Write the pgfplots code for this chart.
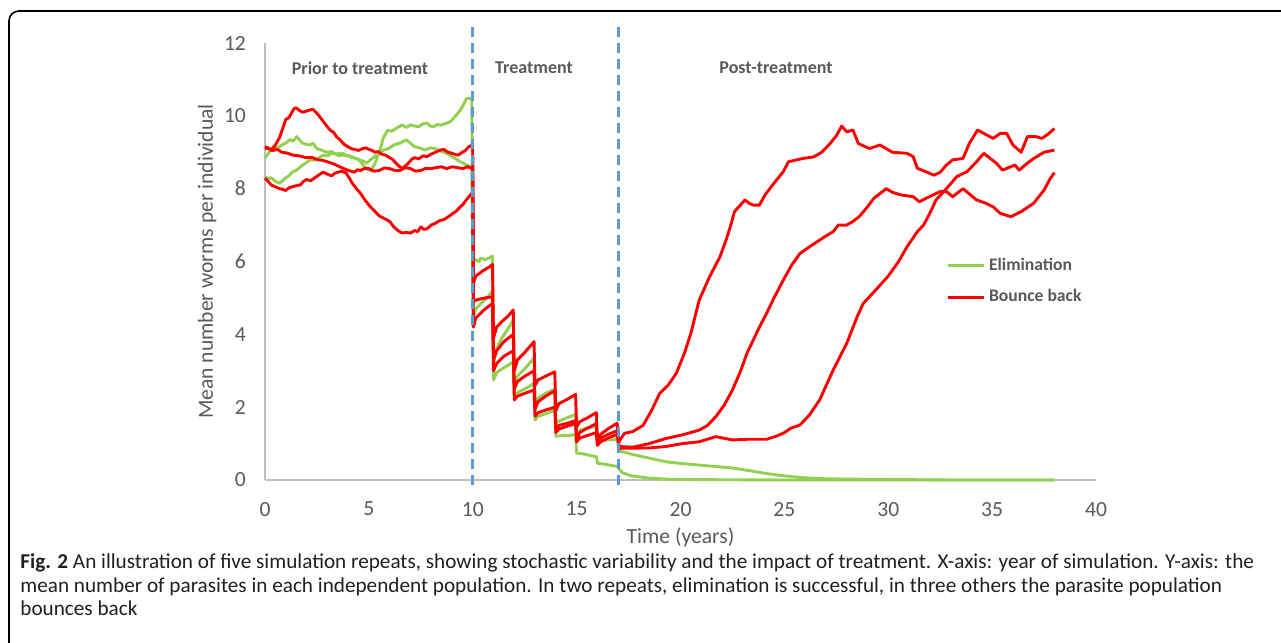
\documentclass[border=0pt]{standalone}
\usepackage{pgfplots}
\pgfplotsset{compat=1.18}
\usepackage{fontspec}
\setmainfont{Carlito}
\definecolor{elim}{HTML}{92D050}
\definecolor{bounce}{HTML}{FF0000}
\definecolor{dashblue}{HTML}{5B9BD5}
\definecolor{txtgray}{HTML}{595959}
\definecolor{axgray}{HTML}{BFBFBF}
\definecolor{captxt}{HTML}{231F20}
\begin{document}
\begin{tikzpicture}
\path[use as bounding box] (0,0) rectangle (640.5pt,321.5pt);
\draw[black, line width=0.8pt, rounded corners=5pt] (642pt,316pt) -- (4.5pt,316pt) -- (4.5pt,-2pt);
\begin{axis}[
  at={(132.5pt,81.5pt)}, anchor=south west,
  width=415.5pt, height=218.5pt, scale only axis,
  xmin=0, xmax=40, ymin=0, ymax=12,
  xtick={0,5,...,40}, ytick={0,2,...,12},
  axis x line=bottom, axis y line=left,
  axis line style={-, axgray, line width=0.8pt},
  major tick length=0pt,
  tick label style={font=\fontsize{10.8}{12}\selectfont, text=txtgray},
  /pgf/number format/assume math mode=true,
  xticklabel style={yshift=-7.5pt},
  yticklabel style={xshift=-6pt},
  xlabel={Time (years)},
  ylabel={Mean number worms per individual},
  label style={font=\fontsize{10.8}{12}\selectfont, text=txtgray},
  xlabel style={at={(axis description cs:0.5,-0.131)}, anchor=center},
  ylabel style={at={(axis description cs:-0.0698,0.5)}, anchor=center},
  clip=false,
  legend style={draw=none, fill=none, at={(axis description cs:0.812,0.527)}, anchor=north west,
    font=\bfseries\fontsize{8.8}{10}\selectfont, text=txtgray, row sep=4pt},
  legend cell align=left,
  legend image code/.code={\draw[#1] (0pt,0pt) -- (18pt,0pt);},
  every axis plot/.append style={line width=1.45pt, line join=round},
]
\addplot[elim] coordinates {(0,8.33)(0.15,8.28)(0.3,8.3)(0.5,8.2)(0.7,8.15)(0.85,8.22)(1.0,8.3)(1.15,8.35)(1.3,8.45)(1.5,8.5)(1.7,8.6)(1.95,8.7)(2.2,8.8)(2.4,8.78)(2.6,8.85)(2.8,8.92)(3.0,8.9)(3.2,8.97)(3.4,8.95)(3.6,8.9)(3.75,8.97)(3.9,8.92)(4.1,8.9)(4.3,8.84)(4.5,8.8)(4.65,8.7)(4.8,8.6)(4.95,8.52)(5.1,8.5)(5.2,8.6)(5.3,8.7)(5.4,8.85)(5.5,9.0)(5.6,9.2)(5.7,9.4)(5.8,9.5)(5.9,9.6)(6.1,9.58)(6.3,9.65)(6.45,9.7)(6.6,9.75)(6.8,9.68)(7.0,9.75)(7.2,9.72)(7.4,9.7)(7.6,9.78)(7.8,9.8)(7.95,9.72)(8.1,9.7)(8.3,9.76)(8.5,9.75)(8.75,9.8)(8.95,9.85)(9.1,9.95)(9.25,10.05)(9.4,10.16)(9.55,10.3)(9.7,10.48)(9.95,10.48)
(10.02,6.0)(10.15,6.05)(10.3,6.0)(10.4,6.1)(10.6,6.05)(10.8,6.1)(10.95,6.15)
(11.0,2.75)(11.15,2.95)(11.4,3.05)(11.7,3.15)(11.95,3.25)
(12.0,2.3)(12.15,2.4)(12.5,2.5)(12.95,2.65)
(13.0,1.65)(13.15,1.75)(13.5,1.82)(13.95,1.92)
(14.0,1.2)(14.3,1.22)(14.6,1.22)(14.95,1.25)
(15.0,0.74)(15.3,0.72)(15.6,0.68)(15.95,0.64)
(16.0,0.46)(16.5,0.42)(16.95,0.37)
(17.05,0.3)(17.2,0.2)(17.6,0.12)(18.5,0.05)(19.5,0.02)(21,0.01)(25,0)(38,0)};
\addlegendentry{Elimination}
\addplot[elim, forget plot] coordinates {(0,8.84)(0.2,9.0)(0.4,9.15)(0.6,9.12)(0.8,9.2)(1.0,9.25)(1.2,9.35)(1.35,9.3)(1.52,9.43)(1.65,9.35)(1.8,9.25)(2.0,9.22)(2.17,9.2)(2.3,9.25)(2.5,9.1)(2.75,9.05)(2.97,9.0)(3.2,9.02)(3.4,8.95)(3.6,8.97)(3.75,8.92)(4.0,8.9)(4.2,8.85)(4.4,8.83)(4.55,8.79)(4.75,8.75)(4.9,8.7)(5.05,8.78)(5.2,8.85)(5.45,8.95)(5.7,9.06)(5.95,9.1)(6.2,9.2)(6.5,9.25)(6.8,9.34)(7.0,9.25)(7.2,9.15)(7.45,9.12)(7.7,9.06)(7.95,9.12)(8.2,9.1)(8.5,9.02)(8.75,8.97)(9.1,8.85)(9.39,8.74)(9.55,8.7)(9.7,8.65)(9.95,8.6)
(10.02,4.5)(10.15,4.7)(10.4,4.85)(10.7,5.0)(10.95,5.2)
(11.0,3.2)(11.15,3.6)(11.4,3.9)(11.7,4.15)(11.95,4.4)
(12.0,2.6)(12.15,2.85)(12.5,3.05)(12.95,3.35)
(13.0,2.1)(13.15,2.25)(13.5,2.38)(13.95,2.5)
(14.0,1.55)(14.15,1.62)(14.5,1.7)(14.95,1.8)
(15.0,1.3)(15.2,1.38)(15.5,1.42)(15.95,1.47)
(16.0,1.05)(16.2,1.08)(16.6,1.1)(16.95,1.12)
(17.05,0.8)(17.7,0.7)(18.5,0.6)(19.3,0.5)(20.1,0.45)(20.9,0.41)(21.7,0.37)(22.5,0.33)(23.3,0.26)(24.1,0.18)(24.9,0.12)(25.75,0.07)(26.6,0.04)(27.4,0.03)(29,0.02)(31,0.01)(33,0)(38,0)};
\addplot[bounce] coordinates {(0,9.1)(0.15,9.12)(0.3,9.05)(0.5,9.2)(0.7,9.4)(0.85,9.65)(1.0,9.9)(1.15,9.95)(1.3,10.1)(1.4,10.2)(1.5,10.22)(1.65,10.15)(1.8,10.1)(1.95,10.12)(2.1,10.15)(2.3,10.18)(2.45,10.1)(2.6,10.0)(2.8,9.85)(3.0,9.7)(3.15,9.6)(3.3,9.55)(3.45,9.42)(3.6,9.35)(3.8,9.22)(4.0,9.15)(4.15,9.1)(4.3,9.08)(4.5,9.05)(4.7,9.1)(4.85,9.12)(5.0,9.08)(5.15,9.05)(5.3,9.0)(5.45,9.02)(5.6,8.95)(5.8,8.92)(6.0,8.85)(6.15,8.8)(6.3,8.7)(6.45,8.62)(6.6,8.55)(6.75,8.62)(6.9,8.7)(7.05,8.8)(7.2,8.85)(7.4,8.82)(7.6,8.9)(7.8,8.88)(8.0,8.95)(8.2,9.0)(8.4,9.05)(8.6,9.08)(8.8,9.0)(8.95,8.98)(9.1,8.95)(9.3,8.92)(9.5,9.0)(9.65,9.05)(9.8,9.15)(10.0,9.2)
(10.03,5.4)(10.15,5.6)(10.5,5.75)(10.8,5.85)(10.95,5.92)
(11.0,3.9)(11.15,4.2)(11.4,4.35)(11.7,4.5)(11.95,4.67)
(12.0,3.0)(12.15,3.3)(12.5,3.5)(12.95,3.8)
(13.0,2.6)(13.15,2.75)(13.5,2.85)(13.95,2.97)
(14.0,1.9)(14.15,2.1)(14.5,2.2)(14.95,2.35)
(15.0,1.45)(15.15,1.6)(15.5,1.7)(15.95,1.85)
(16.0,1.05)(16.15,1.25)(16.5,1.4)(16.95,1.56)
(17.03,1.05)(17.3,1.28)(17.7,1.33)(18.2,1.5)(18.6,1.9)(19.0,2.38)(19.4,2.6)(19.8,2.93)(20.2,3.5)(20.5,4.03)(20.9,4.94)(21.4,5.58)(21.9,6.13)(22.2,6.6)(22.4,6.96)(22.6,7.37)(23.1,7.69)(23.3,7.6)(23.5,7.55)(23.8,7.55)(24.07,7.83)(24.5,8.15)(24.95,8.47)(25.2,8.74)(25.9,8.83)(26.4,8.87)(26.8,9.0)(27.2,9.24)(27.5,9.45)(27.76,9.72)(28.0,9.56)(28.3,9.61)(28.56,9.24)(29.1,9.1)(29.6,9.2)(30.2,9.0)(30.9,8.97)(31.2,8.88)(31.4,8.56)(32.0,8.42)(32.2,8.37)(32.5,8.45)(32.8,8.65)(33.1,8.79)(33.6,8.83)(33.9,9.24)(34.3,9.61)(35.05,9.38)(35.4,9.52)(35.7,9.52)(36.0,9.2)(36.4,9.0)(36.7,9.43)(37.1,9.43)(37.4,9.38)(37.7,9.5)(38.0,9.65)};
\addlegendentry{Bounce back}
\addplot[bounce, forget plot] coordinates {(0,9.15)(0.2,9.1)(0.4,9.05)(0.6,9.08)(0.8,9.0)(1.05,8.98)(1.35,8.92)(1.65,8.9)(2.0,8.85)(2.25,8.86)(2.5,8.8)(2.75,8.78)(3.0,8.74)(3.3,8.68)(3.6,8.6)(3.8,8.55)(4.0,8.5)(4.15,8.48)(4.3,8.45)(4.45,8.52)(4.6,8.5)(4.8,8.56)(5.0,8.55)(5.25,8.48)(5.5,8.5)(5.75,8.57)(6.0,8.55)(6.25,8.5)(6.5,8.5)(6.75,8.58)(7.0,8.55)(7.25,8.48)(7.5,8.5)(7.75,8.56)(8.0,8.55)(8.25,8.58)(8.5,8.6)(8.75,8.55)(9.0,8.6)(9.25,8.58)(9.5,8.55)(9.75,8.6)(10.0,8.55)
(10.03,4.9)(10.2,4.95)(10.6,5.0)(10.95,5.03)
(11.0,3.3)(11.15,3.55)(11.5,3.8)(11.95,4.0)
(12.0,2.5)(12.15,2.7)(12.5,2.85)(12.95,3.0)
(13.0,1.95)(13.15,2.15)(13.5,2.3)(13.95,2.45)
(14.0,1.4)(14.15,1.5)(14.5,1.55)(14.95,1.63)
(15.0,1.1)(15.15,1.3)(15.5,1.42)(15.95,1.55)
(16.0,1.0)(16.15,1.15)(16.5,1.25)(16.95,1.35)
(17.05,0.92)(17.7,0.9)(18.5,1.0)(19.3,1.14)(20.1,1.24)(20.9,1.37)(21.3,1.5)(21.7,1.74)(22.1,2.05)(22.5,2.47)(22.9,3.0)(23.2,3.48)(23.5,3.84)(23.8,4.2)(24.15,4.58)(24.5,5.0)(24.95,5.49)(25.35,5.9)(25.75,6.22)(26.2,6.4)(26.7,6.59)(27.0,6.7)(27.35,6.82)(27.6,7.0)(28.0,7.0)(28.3,7.1)(28.6,7.23)(29.0,7.5)(29.3,7.73)(29.9,8.0)(30.2,7.9)(30.6,7.83)(31.2,7.78)(31.5,7.64)(31.8,7.73)(32.5,7.92)(32.8,7.92)(33.1,7.78)(33.6,8.0)(34.25,7.69)(34.7,7.6)(35.05,7.5)(35.4,7.32)(35.9,7.23)(36.4,7.37)(37.0,7.6)(37.5,7.96)(37.8,8.28)(38.0,8.44)};
\addplot[bounce, forget plot] coordinates {(0,8.29)(0.15,8.2)(0.3,8.1)(0.5,8.05)(0.7,8.0)(0.85,7.98)(1.0,7.95)(1.15,8.02)(1.3,8.05)(1.5,8.08)(1.7,8.1)(1.85,8.2)(2.0,8.25)(2.2,8.22)(2.4,8.3)(2.6,8.38)(2.8,8.45)(3.0,8.4)(3.2,8.35)(3.35,8.42)(3.5,8.45)(3.7,8.48)(3.9,8.43)(4.05,8.3)(4.2,8.15)(4.4,8.0)(4.6,7.87)(4.8,7.7)(5.0,7.55)(5.25,7.4)(5.5,7.25)(5.75,7.18)(6.0,7.1)(6.2,6.95)(6.4,6.85)(6.6,6.78)(6.8,6.8)(7.0,6.78)(7.2,6.85)(7.35,6.82)(7.5,6.95)(7.65,6.88)(7.8,6.9)(8.0,7.0)(8.2,7.05)(8.4,7.12)(8.6,7.15)(8.8,7.22)(9.0,7.3)(9.2,7.38)(9.4,7.5)(9.55,7.58)(9.7,7.7)(9.85,7.8)(10.0,7.9)
(10.03,4.2)(10.15,4.45)(10.5,4.65)(10.95,4.85)
(11.0,3.0)(11.15,3.2)(11.5,3.4)(11.95,3.55)
(12.0,2.2)(12.15,2.3)(12.5,2.38)(12.95,2.47)
(13.0,1.75)(13.15,1.85)(13.5,1.92)(13.95,2.0)
(14.0,1.3)(14.15,1.4)(14.5,1.47)(14.95,1.55)
(15.0,1.05)(15.15,1.15)(15.5,1.22)(15.95,1.3)
(16.0,0.95)(16.15,1.05)(16.5,1.15)(16.95,1.25)
(17.05,0.87)(18.5,0.88)(19.3,0.92)(20.1,1.0)(20.9,1.05)(21.7,1.19)(22.5,1.1)(23.3,1.12)(24.15,1.12)(24.6,1.2)(25.0,1.3)(25.3,1.42)(25.75,1.51)(26.2,1.78)(26.7,2.2)(27.35,3.02)(28.0,3.75)(28.5,4.48)(28.8,4.85)(29.4,5.22)(30.0,5.6)(30.5,6.0)(30.9,6.4)(31.4,6.82)(31.7,7.0)(32.0,7.32)(32.3,7.69)(32.8,8.0)(33.3,8.33)(33.8,8.47)(34.25,8.74)(34.6,8.97)(35.2,8.7)(35.5,8.51)(36.1,8.65)(36.3,8.51)(36.7,8.7)(37.0,8.83)(37.5,9.0)(38.0,9.06)};
\addplot[dashblue, forget plot, dash pattern=on 5pt off 3pt] coordinates {(10,-0.15)(10,12.5)};
\addplot[dashblue, forget plot, dash pattern=on 5pt off 3pt] coordinates {(17,-0.15)(17,12.5)};
\node[font=\bfseries\fontsize{9}{10}\selectfont, text=txtgray] at (axis cs:4.57,11.31) {Prior to treatment};
\node[font=\bfseries\fontsize{9}{10}\selectfont, text=txtgray] at (axis cs:12.95,11.31) {Treatment};
\node[font=\bfseries\fontsize{9}{10}\selectfont, text=txtgray] at (axis cs:24.6,11.31) {Post-treatment};
\end{axis}
\begin{scope}[every node/.style={anchor=base west, inner sep=0pt, text=captxt, font=\fontsize{10.6}{12}\selectfont}]
\node at (10pt,37pt) {\textbf{Fig. 2} An illustration of five simulation repeats, showing stochastic variability and the impact of treatment. X-axis: year of simulation. Y-axis: the};
\node at (10pt,25pt) {mean number of parasites in each independent population. In two repeats, elimination is successful, in three others the parasite population};
\node at (10pt,13.5pt) {bounces back};
\end{scope}
\end{tikzpicture}
\end{document}
